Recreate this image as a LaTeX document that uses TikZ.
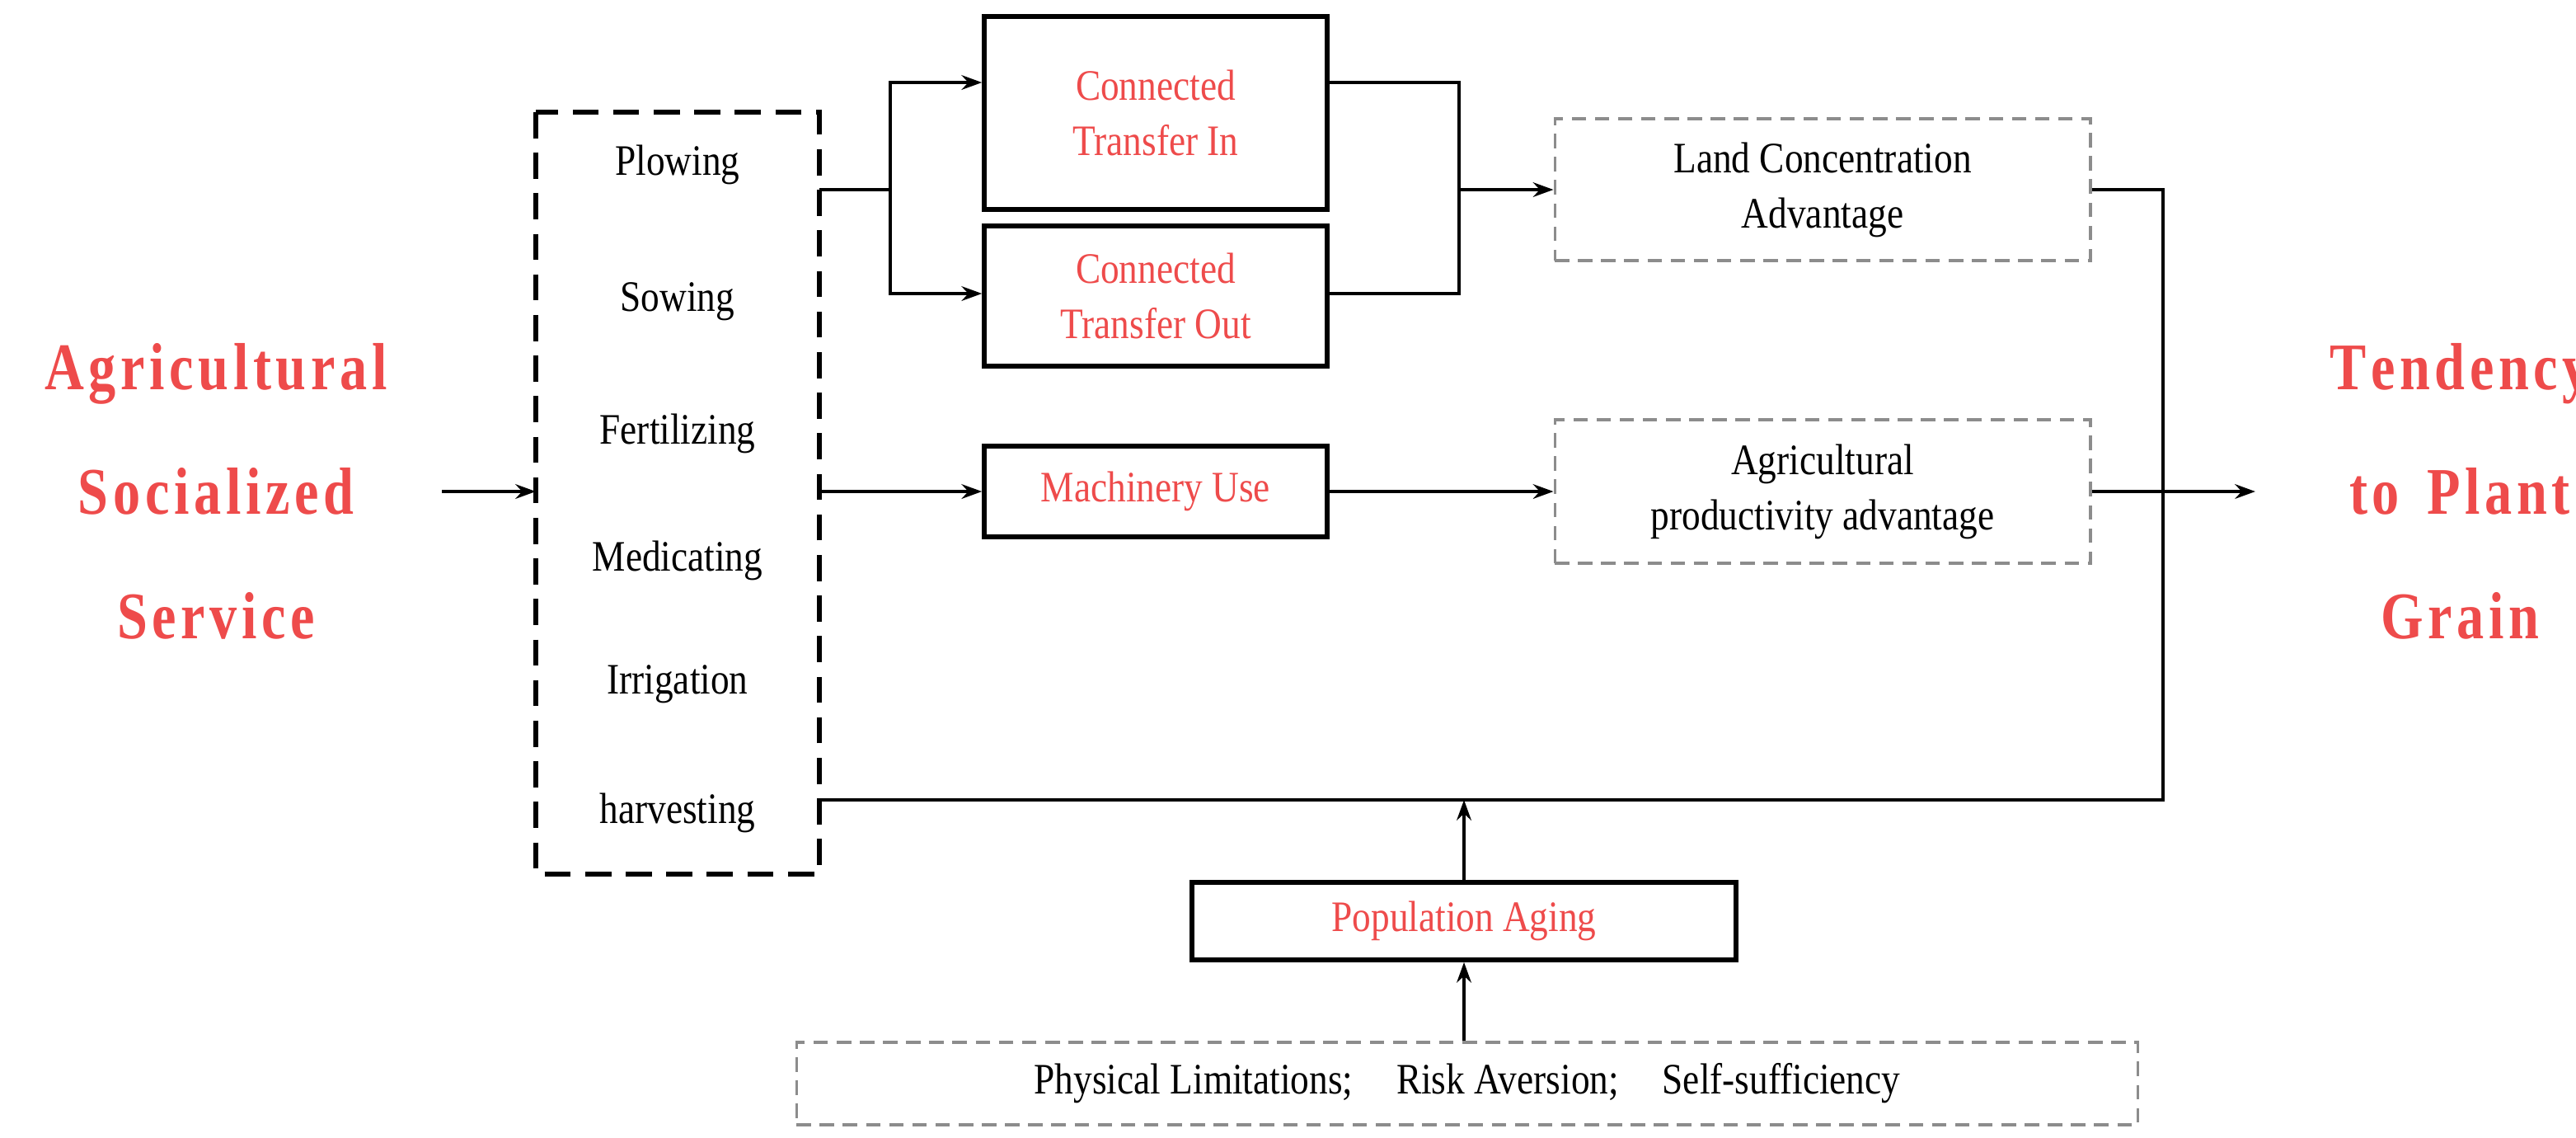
\documentclass[tikz,border=0pt]{standalone}
\usepackage{fontspec}
\setmainfont{Liberation Serif}
\newfontfamily\condfont[FakeStretch=0.86]{Liberation Serif}
\newfontfamily\bigfont[FakeStretch=0.82]{Liberation Serif}
\usetikzlibrary{arrows.meta}
\definecolor{rd}{RGB}{238,75,75}
\definecolor{gr}{RGB}{140,140,140}
\newcommand{\lsp}{\kern1.6pt}
\begin{document}
\begin{tikzpicture}[x=0.02cm,y=-0.02cm,
  solidbox/.style={draw,line width=1.6pt,minimum width=4.16cm,text=rd,font=\condfont\fontsize{15}{19}\selectfont,align=center,inner sep=0pt},
  graybox/.style={draw=gr,dashed,line width=0.9pt,dash pattern=on 5pt off 3pt,align=center,font=\condfont\fontsize{15}{19}\selectfont,inner sep=0pt},
  big/.style={text=rd,font=\bigfont\bfseries\fontsize{23}{33}\selectfont,align=center},
  ln/.style={line width=1.2pt},
  ar/.style={line width=1.2pt,-{Stealth[length=7pt,width=5pt]}},
  item/.style={font=\condfont\fontsize{15}{18}\selectfont}]
\useasboundingbox (0,0) rectangle (1562.5,689.5);
\node[big] (L) at (131,298) {A\lsp g\lsp r\lsp i\lsp c\lsp u\lsp l\lsp t\lsp u\lsp r\lsp a\lsp l\\[10pt] S\lsp o\lsp c\lsp i\lsp a\lsp l\lsp i\lsp z\lsp e\lsp d\\[10pt] S\lsp e\lsp r\lsp v\lsp i\lsp c\lsp e};
\node[big] (R) at (1492,298) {T\lsp e\lsp n\lsp d\lsp e\lsp n\lsp c\lsp y\\[10pt] t\lsp o\ \ P\lsp l\lsp a\lsp n\lsp t\\[10pt] G\lsp r\lsp a\lsp i\lsp n};
\draw[line width=1.6pt,dash pattern=on 9pt off 5pt] (325,68) rectangle (497,530);
\coordinate (dl) at (325,298);
\coordinate (dr) at (497,298);
\foreach \t/\y in {Plowing/100,Sowing/183,Fertilizing/263,Medicating/340,Irrigation/415,harvesting/493}
  \node[item] at (411,\y) {\t};
\node[solidbox,minimum height=2.34cm] (ti) at (701,68.5) {Connected\\Transfer In};
\node[solidbox,minimum height=1.7cm] (to) at (701,179.5) {Connected\\Transfer Out};
\node[solidbox,minimum height=1.1cm] (mu) at (701,298) {Machinery Use};
\node[graybox,minimum width=6.5cm,minimum height=1.72cm] (lc) at (1105.5,115) {Land Concentration\\Advantage};
\node[graybox,minimum width=6.5cm,minimum height=1.74cm] (ap) at (1105.5,298) {Agricultural\\productivity advantage};
\node[solidbox,minimum width=6.6cm,minimum height=0.94cm] (pa) at (888,558.5) {Population Aging};
\node[graybox,minimum width=16.28cm,minimum height=1cm] (pl) at (890,657) {Physical Limitations;\quad Risk Aversion;\quad Self-sufficiency};
\draw[ar] (268,298) -- (dl);
\draw[ln] (497,115) -- (540,115);
\draw[ar] (540,115) |- (ti.west |- 0,50);
\draw[ar] (540,115) |- (to.west |- 0,178);
\draw[ln] (ti.east |- 0,50) -| (885,178) -- (to.east |- 0,178);
\draw[ar] (885,115) -- (lc.west);
\draw[ar] (dr) -- (mu.west);
\draw[ar] (mu.east) -- (ap.west);
\draw[ln] (lc.east) -| (1312,485) -- (497,485);
\draw[ar] (ap.east) -- (1368,298);
\draw[ar] (pa.north) -- (888,485);
\draw[ar] (pl.north -| pa.south) -- (pa.south);
\end{tikzpicture}
\end{document}
